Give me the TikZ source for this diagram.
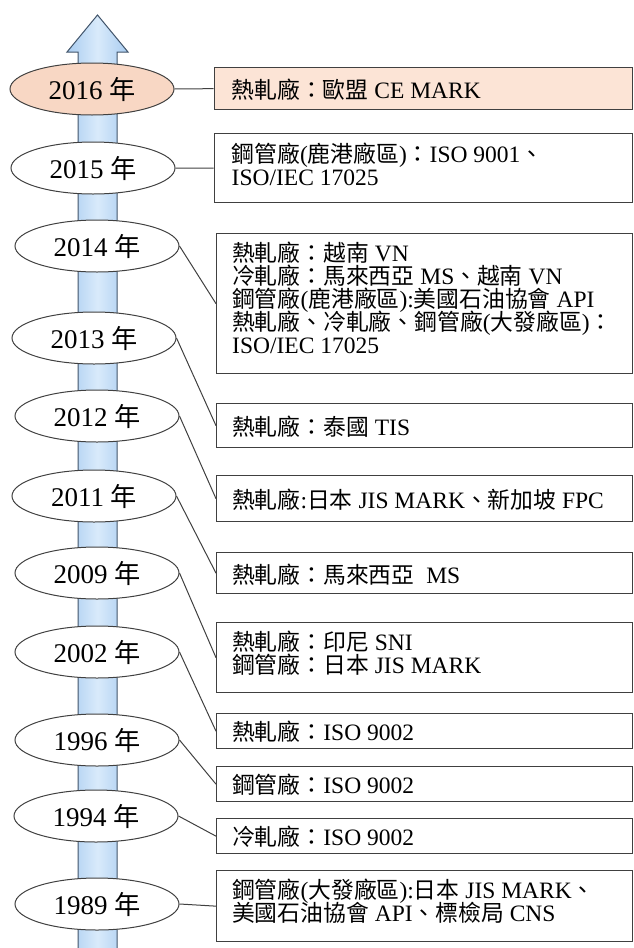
\documentclass[tikz,border=0pt]{standalone}
\usepackage{fontspec}
\setmainfont{Liberation Serif}
\newfontfamily\cjkfont[Scale=0.97]{Noto Sans CJK TC}
\newcommand\zh[1]{{\cjkfont #1}}
\newcommand\boxfont{\fontsize{23.5}{23}\selectfont\lineskiplimit=-50pt\relax}
\newcommand\yearfont{\fontsize{27}{30}\selectfont}
\usetikzlibrary{shapes.geometric}
\definecolor{linec}{HTML}{404040}
\definecolor{peachE}{HTML}{F8D7C4}
\definecolor{peachB}{HTML}{FCE4D6}
\definecolor{shaftA}{HTML}{A9CCF0}
\definecolor{shaftB}{HTML}{D9EAFB}
\definecolor{shaftline}{HTML}{41546A}
\begin{document}
\begin{tikzpicture}[x=1pt,y=-1pt,
  yearnode/.style={ellipse, draw=linec, line width=1pt, fill=white,
    minimum width=164pt, minimum height=52pt, inner sep=0pt,
    font=\yearfont},
  infobox/.style={draw=linec, line width=1.3pt, fill=white, anchor=north west,
    minimum width=416pt, inner sep=0pt},
  infotext/.style={anchor=base west, inner sep=0pt, font=\boxfont},
  conn/.style={draw=linec, line width=1pt}]
\useasboundingbox (0,0) rectangle (633,948);

% timeline arrow
\path[draw=shaftline, line width=1pt, left color=shaftA, right color=shaftA, middle color=shaftB]
  (78,952) -- (78,52) -- (67,52) -- (97.5,15) -- (128,52) -- (117,52) -- (117,952) -- cycle;

% boxes
\node[infobox, fill=peachB, minimum height=42pt, minimum width=418.5pt] (b2016) at (213.5,67) {};
\node[infobox, minimum height=69pt, minimum width=418.5pt] (b2015) at (213.5,133) {};
\node[infobox, minimum height=140pt] (b2014) at (216,233) {};
\node[infobox, minimum height=44pt] (b2013) at (216,403) {};
\node[infobox, minimum height=46pt] (b2012) at (216,475) {};
\node[infobox, minimum height=41pt] (b2011) at (216,552) {};
\node[infobox, minimum height=70pt] (b2009) at (216,622) {};
\node[infobox, minimum height=35pt] (b2002) at (216,713) {};
\node[infobox, minimum height=35pt] (b1996) at (216,766) {};
\node[infobox, minimum height=35pt] (b1994) at (216,818) {};
\node[infobox, minimum height=71pt] (b1989) at (216,870) {};

% box texts
\node[infotext] (t2016) at ([shift={(18,10)}]b2016.west) {\zh{熱軋廠：歐盟} CE MARK};
\node[infotext] (t2015) at ([shift={(18,29)}]b2015.north west)
  {\vtop{\hbox{\zh{鋼管廠}(\zh{鹿港廠區})\zh{：}ISO 9001\zh{、}}\hbox{ISO/IEC 17025}}};
\node[infotext] (t2014) at ([shift={(16,28)}]b2014.north west)
  {\vtop{\hbox{\zh{熱軋廠：越南} VN}
         \hbox{\zh{冷軋廠：馬來西亞} MS\zh{、越南} VN}
         \hbox{\zh{鋼管廠}(\zh{鹿港廠區}):\zh{美國石油協會} API}
         \hbox{\zh{熱軋廠、冷軋廠、鋼管廠}(\zh{大發廠區})\zh{：}}
         \hbox{ISO/IEC 17025}}};
\node[infotext] (t2013) at ([shift={(16,10)}]b2013.west) {\zh{熱軋廠：泰國} TIS};
\node[infotext] (t2012) at ([shift={(16,10)}]b2012.west) {\zh{熱軋廠}:\zh{日本} JIS MARK\zh{、新加坡} FPC};
\node[infotext] (t2011) at ([shift={(16,10)}]b2011.west) {\zh{熱軋廠：馬來西亞}\ \ MS};
\node[infotext] (t2009) at ([shift={(16,28)}]b2009.north west)
  {\vtop{\hbox{\zh{熱軋廠：印尼} SNI}\hbox{\zh{鋼管廠：日本} JIS MARK}}};
\node[infotext] (t2002) at ([shift={(16,9)}]b2002.west) {\zh{熱軋廠：}ISO 9002};
\node[infotext] (t1996) at ([shift={(16,9)}]b1996.west) {\zh{鋼管廠：}ISO 9002};
\node[infotext] (t1994) at ([shift={(16,9)}]b1994.west) {\zh{冷軋廠：}ISO 9002};
\node[infotext] (t1989) at ([shift={(16,28)}]b1989.north west)
  {\vtop{\hbox{\zh{鋼管廠}(\zh{大發廠區}):\zh{日本} JIS MARK\zh{、}}\hbox{\zh{美國石油協會} API\zh{、標檢局} CNS}}};

% year ellipses
\node[yearnode, fill=peachE] (e2016) at (92,89) {2016 \zh{年}};
\node[yearnode] (e2015) at (93,168) {2015 \zh{年}};
\node[yearnode] (e2014) at (97,246) {2014 \zh{年}};
\node[yearnode] (e2013) at (94,338) {2013 \zh{年}};
\node[yearnode] (e2012) at (97,416) {2012 \zh{年}};
\node[yearnode] (e2011) at (94,496) {2011 \zh{年}};
\node[yearnode] (e2009) at (97,573) {2009 \zh{年}};
\node[yearnode] (e2002) at (97,652) {2002 \zh{年}};
\node[yearnode] (e1996) at (97,740) {1996 \zh{年}};
\node[yearnode] (e1994) at (96,816) {1994 \zh{年}};
\node[yearnode] (e1989) at (97,904) {1989 \zh{年}};

% connectors
\foreach \y in {2016,2015,2014,2013,2012,2011,2009,2002,1996,1994,1989}
  \draw[conn] (e\y.east) -- (b\y.west);
\end{tikzpicture}
\end{document}
